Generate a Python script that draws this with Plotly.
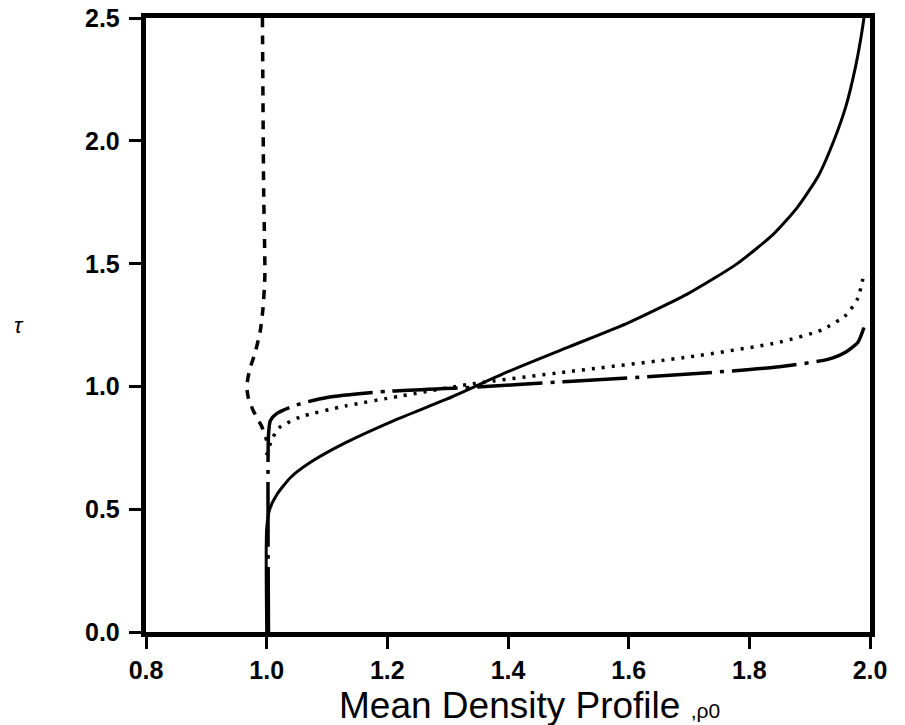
import plotly.graph_objects as go

# Solid curve
solid_x = [1.0, 1.0, 1.005, 1.017, 1.04, 1.072, 1.13, 1.21, 1.30, 1.40, 1.50,
           1.60, 1.70, 1.78, 1.84, 1.88, 1.915, 1.94, 1.96, 1.975, 1.985, 1.99]
solid_y = [0.0, 0.42, 0.50, 0.56, 0.63, 0.69, 0.77, 0.86, 0.95, 1.06, 1.16,
           1.26, 1.38, 1.50, 1.62, 1.73, 1.86, 2.0, 2.14, 2.29, 2.42, 2.5]

# Dotted curve
dot_x = [1.0, 1.008, 1.02, 1.055, 1.13, 1.22, 1.34, 1.50, 1.70, 1.85, 1.92,
         1.96, 1.98, 1.99]
dot_y = [0.72, 0.78, 0.83, 0.875, 0.92, 0.96, 1.01, 1.06, 1.12, 1.18, 1.23,
         1.29, 1.36, 1.46]

# Dash-dot curve
dashdot_x = [1.003, 1.003, 1.006, 1.017, 1.05, 1.10, 1.20, 1.33, 1.50, 1.70,
             1.85, 1.93, 1.96, 1.98, 1.99]
dashdot_y = [0.0, 0.80, 0.86, 0.89, 0.925, 0.955, 0.98, 0.995, 1.02, 1.05,
             1.08, 1.11, 1.14, 1.18, 1.24]

# Dashed curve
dash_x = [0.993, 0.995, 0.997, 0.994, 0.989, 0.98, 0.972, 0.967, 0.97, 0.978,
          0.992, 1.0]
dash_y = [2.5, 1.8, 1.45, 1.32, 1.22, 1.13, 1.07, 1.0, 0.95, 0.90, 0.836, 0.78]

x_ticks = [0.8, 1.0, 1.2, 1.4, 1.6, 1.8, 2.0]
y_ticks = [0.0, 0.5, 1.0, 1.5, 2.0, 2.5]

fig = go.Figure()
fig.add_trace(go.Scatter(x=solid_x, y=solid_y, mode="lines",
                         line=dict(color="black", width=3, shape="spline", smoothing=0.6)))
fig.add_trace(go.Scatter(x=dot_x, y=dot_y, mode="lines",
                         line=dict(color="black", width=3.5, dash="3px,7px",
                                   shape="spline", smoothing=0.6)))
fig.add_trace(go.Scatter(x=dashdot_x, y=dashdot_y, mode="lines",
                         line=dict(color="black", width=3.5, dash="65px,8px,4px,8px",
                                   shape="spline", smoothing=0.6)))
fig.add_trace(go.Scatter(x=dash_x, y=dash_y, mode="lines",
                         line=dict(color="black", width=3.5, dash="9px,8px",
                                   shape="spline", smoothing=0.6)))

tick_font = dict(family="Liberation Sans, Arial, sans-serif", size=25,
                 color="black", weight="bold")

# y tick labels sit close to the tick ends
y_labels = [
    dict(text=f"{v:.1f}", xref="paper", x=-0.033, yref="y", y=v,
         xanchor="right", yanchor="middle", showarrow=False, font=tick_font)
    for v in y_ticks
]

fig.update_layout(
    width=905, height=725,
    margin=dict(l=146, r=35, t=18, b=93),
    paper_bgcolor="white", plot_bgcolor="white",
    showlegend=False,
    xaxis=dict(range=[0.8, 2.0], tickvals=x_ticks,
               ticktext=[f"{v:.1f}" for v in x_ticks],
               showgrid=False, zeroline=False,
               showline=True, linewidth=5, linecolor="black", mirror=True,
               ticks="outside", ticklen=12, tickwidth=2.5, tickcolor="black",
               tickfont=tick_font),
    yaxis=dict(range=[0, 2.5], tickvals=y_ticks, showticklabels=False,
               showgrid=False, zeroline=False,
               showline=True, linewidth=5, linecolor="black", mirror=True,
               ticks="outside", ticklen=12, tickwidth=2.5, tickcolor="black"),
    annotations=y_labels + [
        dict(text="Mean Density Profile <span style='font-size:21px'>,ρ0</span>",
             xref="paper", yref="paper", x=0.264, y=-0.119,
             xanchor="left", yanchor="middle", showarrow=False,
             font=dict(family="Liberation Sans, Arial, sans-serif", size=37,
                       color="black")),
        dict(text="<i>τ</i>", xref="paper", yref="paper",
             x=-0.175, y=0.5, xanchor="center", yanchor="middle",
             showarrow=False,
             font=dict(family="Liberation Sans, Arial, sans-serif", size=22,
                       color="black")),
    ],
)

fig.write_html("out.html")
